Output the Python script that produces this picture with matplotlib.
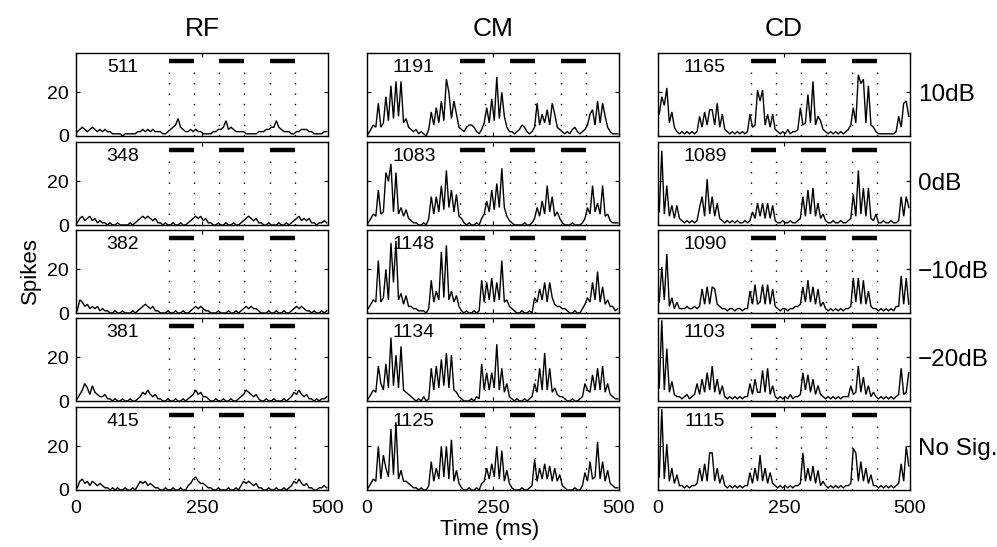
import numpy as np
import matplotlib
matplotlib.use("Agg")
import matplotlib.pyplot as plt

plt.rcParams['font.family'] = ['Liberation Sans', 'DejaVu Sans']

# ---------------- data (5 ms bins, 0-500 ms) ----------------
bin_ms = 5
columns = ["RF", "CM", "CD"]
row_labels = ["10dB", "0dB", "\u221210dB", "\u221220dB", "No Sig."]
counts = [[511, 1191, 1165],
          [348, 1083, 1089],
          [382, 1148, 1090],
          [381, 1134, 1103],
          [415, 1125, 1115]]
stim_on = [184, 284, 384]
stim_off = [234, 334, 434]

rf_10 = [2,3,4,3,2,3,4,3,2,3, 2,3,2,2,1,1,1,1,0,1, 1,1,1,1,2,2,3,2,3,2,
         3,2,2,2,1,1,2,3,4,5, 8,4,3,2,2,3,2,3,2,2, 1,1,1,1,2,2,3,3,4,7,
         3,4,3,2,2,2,2,1,1,1, 1,1,2,2,2,3,3,4,4,7, 4,3,2,2,2,1,1,2,2,3,
         3,3,2,2,1,1,1,1,2,2]
rf_0 = [1,3,4,2,3,4,2,3,1,2, 1,1,0,1,0,0,1,0,0,0, 0,1,0,1,2,3,4,3,4,3,
        2,3,1,1,0,1,0,0,1,0, 0,1,0,0,1,2,3,4,3,4, 2,3,1,1,0,0,1,0,0,1,
        0,0,1,0,0,1,2,3,4,3, 2,3,1,1,0,0,1,0,0,0, 1,0,0,1,0,1,2,3,4,2,
        3,2,3,1,1,0,1,1,2,1]
rf_m10 = [1,6,5,3,4,2,3,2,3,1, 2,1,1,0,0,1,0,0,1,0, 0,0,1,0,1,2,3,4,3,2,
          3,1,1,0,0,0,1,0,0,1, 0,0,1,0,0,1,2,3,2,3, 2,1,1,0,0,0,1,0,0,0,
          1,0,0,1,0,1,2,3,2,3, 2,2,1,0,0,0,1,0,0,1, 0,0,1,0,0,1,2,3,2,3,
          2,1,1,0,1,0,0,1,0,1]
rf_m20 = [1,3,5,8,6,3,7,4,3,2, 2,3,1,1,0,1,0,0,1,0, 0,1,0,0,1,2,4,3,5,3,
          2,3,1,1,0,0,1,0,0,1, 0,0,1,0,1,2,3,5,3,4, 2,2,1,0,0,1,0,0,1,0,
          0,1,0,0,1,2,3,5,4,3, 2,3,1,0,0,1,0,0,1,0, 0,0,1,0,1,2,4,3,5,3,
          2,3,1,1,0,1,0,1,1,2]
rf_ns = [1,4,5,3,4,2,4,3,2,3, 2,1,1,0,1,0,1,0,0,1, 0,0,1,0,2,4,3,4,2,3,
         2,1,1,0,0,1,0,0,1,0, 0,1,0,0,2,3,5,6,4,3, 3,2,1,1,0,0,1,0,0,0,
         1,0,0,1,0,2,4,3,4,3, 2,3,1,1,0,0,1,0,0,1, 0,0,1,0,1,2,4,3,5,3,
         2,3,1,1,0,0,1,1,2,1]

cm_10 = [1,3,5,4,15,4,6,18,7,23, 8,25,9,25,6,8,4,3,2,3, 1,2,1,0,3,11,5,13,6,16,
         7,26,20,8,16,10,4,3,2,4, 5,5,4,2,1,3,6,13,6,17, 7,27,8,20,9,4,2,2,1,2,
         3,5,4,2,1,2,4,15,5,10, 6,12,5,15,10,4,3,2,1,2, 1,3,4,2,1,2,3,5,10,12,
         5,16,6,15,9,4,2,1,1,1]
cm_0 = [1,3,5,4,16,5,6,24,20,28, 6,24,5,8,4,7,3,2,1,1, 0,0,1,0,3,13,5,13,6,18,
        7,25,8,16,6,14,4,3,1,0, 1,0,0,1,0,3,5,11,6,16, 7,19,8,26,8,4,2,1,0,0,
        0,0,1,0,0,1,3,8,4,11, 5,18,6,13,4,6,3,1,0,0, 0,1,0,0,0,1,3,8,5,18,
        6,10,5,18,4,5,2,1,1,1]
cm_m10 = [2,4,6,5,24,5,7,20,6,32, 14,33,6,9,4,8,3,3,2,2, 1,1,1,0,2,15,5,10,6,28,
          7,31,6,10,5,8,3,1,0,1, 0,0,1,0,1,15,5,14,6,16, 5,14,6,24,5,6,3,2,1,0,
          0,1,0,0,1,0,7,5,11,6, 14,5,14,7,4,3,3,2,2,1, 0,0,1,0,0,2,4,7,5,14,
          6,19,5,12,4,6,3,3,1,2]
cm_m20 = [1,3,5,4,16,8,5,17,6,29, 7,21,6,25,5,4,3,2,1,0, 1,0,2,0,1,15,5,16,6,19,
          7,22,6,21,5,4,2,1,0,0, 0,1,0,2,1,17,5,13,5,13, 6,26,5,15,4,8,2,1,0,1,
          0,0,1,0,1,2,8,4,15,5, 22,5,15,4,6,3,2,2,1,0, 0,1,0,0,1,2,8,5,4,12,
          5,15,5,16,4,8,3,2,1,1]
cm_ns = [1,3,5,4,20,5,16,10,6,28, 7,31,5,9,4,4,3,2,1,1, 0,1,0,0,2,13,4,10,5,20,
         6,20,5,23,4,9,3,1,0,0, 1,0,0,1,0,3,4,10,5,12, 6,20,5,18,4,9,3,1,0,0,
         0,1,0,0,1,2,14,4,10,5, 12,5,11,4,10,4,7,2,1,0, 0,0,1,0,0,2,8,4,13,5,
         6,22,5,13,4,9,3,2,1,1]

cd_10 = [10,18,14,22,6,11,4,2,1,2, 1,2,1,2,1,2,9,4,11,5, 12,12,5,15,4,10,3,2,1,2,
         1,2,1,2,1,2,10,4,5,21, 16,21,5,10,4,10,3,2,1,2, 1,3,1,2,2,3,13,5,6,19,
         6,25,5,9,7,3,2,1,2,1, 2,1,2,1,2,3,5,13,6,28, 24,26,6,23,5,4,2,1,1,1,
         1,1,1,1,2,9,4,15,16,9]
cd_0 = [6,34,5,18,4,9,3,9,3,2, 1,2,1,2,1,2,8,13,4,21, 5,13,4,10,3,2,1,2,1,2,
        1,2,1,1,2,1,2,6,3,10, 4,10,3,10,3,9,2,1,1,2, 1,1,2,1,1,2,3,13,4,16,
        5,17,4,10,3,5,2,1,1,2, 1,1,2,1,1,2,3,14,4,25, 5,17,4,17,3,2,5,1,1,2,
        1,1,2,1,1,2,13,4,13,8]
cd_m10 = [5,21,6,27,3,7,2,5,2,2, 2,3,2,2,3,2,3,11,4,12, 4,12,11,4,3,2,2,1,2,2,
          1,2,2,1,2,2,10,4,13,4, 5,13,4,13,4,11,3,2,1,2, 2,1,2,2,3,3,4,12,5,15,
          5,12,4,11,3,5,2,1,2,1, 2,1,2,1,2,2,3,16,5,16, 4,15,4,10,3,2,2,1,2,1,
          2,1,2,1,3,3,17,4,16,4]
cd_m20 = [6,37,5,24,4,9,3,2,2,1, 2,3,1,2,3,8,3,10,4,13, 5,16,4,10,3,7,2,1,2,1,
          2,1,2,1,2,2,8,3,10,4, 4,14,4,15,3,7,2,1,2,1, 2,1,3,1,2,2,3,13,5,12,
          4,10,3,7,3,2,1,2,1,2, 1,2,1,2,2,2,7,3,4,16, 4,11,3,7,2,4,2,1,2,1,
          2,1,2,1,2,3,15,3,4,13]
cd_ns = [6,37,5,21,4,10,3,7,2,2, 1,2,1,2,2,3,10,4,12,4, 17,17,4,10,3,7,2,1,2,1,
         2,1,2,1,2,2,8,3,10,4, 16,4,10,3,8,3,2,1,2,1, 2,1,2,1,2,2,3,17,4,10,
         4,11,3,9,2,4,2,1,2,1, 2,1,2,1,2,2,3,19,17,4, 13,4,10,3,7,2,2,1,2,1,
         2,1,2,1,2,3,12,4,20,11]

series = [[rf_10, cm_10, cd_10],
          [rf_0, cm_0, cd_0],
          [rf_m10, cm_m10, cd_m10],
          [rf_m20, cm_m20, cd_m20],
          [rf_ns, cm_ns, cd_ns]]

# ---------------- layout ----------------
W, H = 997, 547
fig = plt.figure(figsize=(W / 100, H / 100), dpi=100)

col_left = [76, 367, 658]
ax_w = 252
row_top = [53, 142, 230, 318, 407]
ax_h = 83
YMAX = 38
bar_y = 34.4

for r in range(5):
    for c in range(3):
        x0 = col_left[c] / W
        y0 = 1 - (row_top[r] + ax_h) / H
        ax = fig.add_axes([x0, y0, ax_w / W, ax_h / H])
        vals = np.array(series[r][c], dtype=float)
        t = np.arange(len(vals)) * bin_ms + bin_ms / 2
        ax.plot(t, vals, color='k', lw=1.0, solid_joinstyle='miter')
        for on, off in zip(stim_on, stim_off):
            ax.plot([on, off], [bar_y, bar_y], color='k', lw=3.2,
                    solid_capstyle='butt')
            for xx in (on, off):
                ax.plot([xx, xx], [0, bar_y - 2.2], color='k', lw=1.0,
                        linestyle=(0, (1, 6.5)))
        ax.set_xlim(0, 500)
        ax.set_ylim(0, YMAX)
        ax.set_xticks([0, 250, 500])
        ax.set_yticks([0, 20])
        ax.tick_params(direction='in', top=True, right=True, length=3,
                       width=0.8, labelsize=14, pad=5)
        ax.tick_params(axis='x', pad=7)
        if r < 4:
            ax.set_xticklabels([])
        if c > 0:
            ax.set_yticklabels([])
        for sp in ax.spines.values():
            sp.set_linewidth(1.0)
        ax.text(93, 31.5, str(counts[r][c]), ha='center', va='center',
                fontsize=14)
        if r == 0:
            ax.set_title(columns[c], fontsize=19, pad=12)
        if c == 2:
            fig.text(918 / W, 1 - (row_top[r] + ax_h / 2) / H, row_labels[r],
                     ha='left', va='center', fontsize=17.5)

fig.text(30 / W, 1 - 271 / H, 'Spikes', rotation=90, ha='center',
         va='center', fontsize=16)
fig.text(490 / W, 1 - 530 / H, 'Time (ms)', ha='center', va='center',
         fontsize=16)

fig.savefig('out.png', dpi=100)
